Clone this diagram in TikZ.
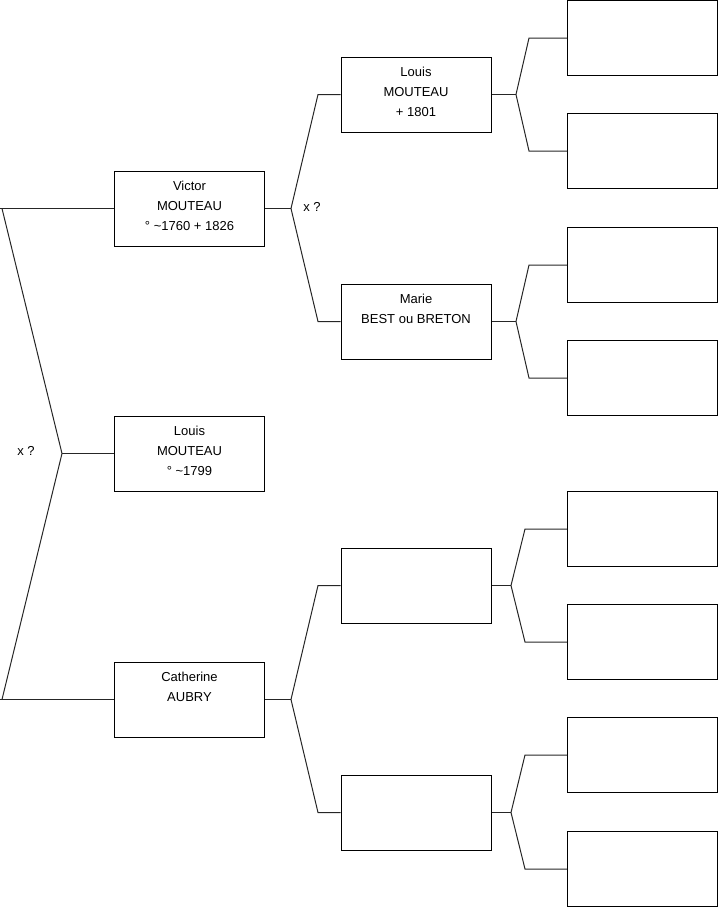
\documentclass[tikz,border=0pt]{standalone}
\usepackage{fontspec}
\setmainfont{Liberation Sans}
\begin{document}
\begin{tikzpicture}[x=1pt,y=-1pt,
  box/.style={draw=black,line width=1pt,minimum width=150pt,minimum height=75pt,inner sep=0pt},
  txt/.style={anchor=north,inner sep=0pt,align=center,font=\fontsize{13}{20}\selectfont},
  ln/.style={draw=black!85,line width=1pt},
  lab/.style={inner sep=0pt,font=\fontsize{13}{15}\selectfont}]
\useasboundingbox (0,0) rectangle (719,908);
% column 1
\node[box] (v) at (189.5,208.5) {};
\node[box] (l) at (189.5,453.5) {};
\node[box] (c) at (189.5,699.5) {};
% column 2
\node[box] (lm) at (416,94.5) {};
\node[box] (mb) at (416,321.5) {};
\node[box] (e1) at (416,585.5) {};
\node[box] (e2) at (416,812.5) {};
% column 3
\node[box] (a1) at (642.5,38) {};
\node[box] (a2) at (642.5,151) {};
\node[box] (a3) at (642.5,265) {};
\node[box] (a4) at (642.5,378) {};
\node[box] (a5) at (642.5,529) {};
\node[box] (a6) at (642.5,642) {};
\node[box] (a7) at (642.5,755) {};
\node[box] (a8) at (642.5,869) {};
% texts
\node[txt] (tv) at ([yshift=-10pt]v.north) {Victor\\MOUTEAU\\° \textasciitilde1760 + 1826};
\node[txt] (tl) at ([yshift=-10pt]l.north) {Louis\\MOUTEAU\\° \textasciitilde1799};
\node[txt] (tc) at ([yshift=-10pt]c.north) {Catherine\\AUBRY};
\node[txt] (tlm) at ([yshift=-10pt]lm.north) {Louis\\MOUTEAU\\+ 1801};
\node[txt] (tmb) at ([yshift=-10pt]mb.north) {Marie\\BEST ou BRETON};
% labels
\node[lab] (x1) at (26,451) {x ?};
\node[lab] (x2) at (312,207) {x ?};
% bracket coordinates
\coordinate (p1) at (62,453.5);
\coordinate (p1a) at (2,208.5);
\coordinate (p1b) at (2,699.5);
\coordinate (p2) at (291,208.5);
\coordinate (p2a) at (318,94.5);
\coordinate (p2b) at (318,321.5);
\coordinate (p3) at (291,699.5);
\coordinate (p3a) at (318,585.5);
\coordinate (p3b) at (318,812.5);
\coordinate (q1) at (516,94.5);
\coordinate (q1a) at (529,38);
\coordinate (q1b) at (529,151);
\coordinate (q2) at (516,321.5);
\coordinate (q2a) at (529,265);
\coordinate (q2b) at (529,378);
\coordinate (q3) at (511,585.5);
\coordinate (q3a) at (525,529);
\coordinate (q3b) at (525,642);
\coordinate (q4) at (511,812.5);
\coordinate (q4a) at (525,755);
\coordinate (q4b) at (525,869);
% connectors
\draw[ln] (v.west) -- (0,208.5);
\draw[ln] (c.west) -- (0,699.5);
\draw[ln] (p1a) -- (p1) -- (p1b);
\draw[ln] (p1) -- (l.west);
\draw[ln] (v.east) -- (p2);
\draw[ln] (lm.west) -- (p2a) -- (p2) -- (p2b) -- (mb.west);
\draw[ln] (c.east) -- (p3);
\draw[ln] (e1.west) -- (p3a) -- (p3) -- (p3b) -- (e2.west);
\draw[ln] (lm.east) -- (q1);
\draw[ln] (a1.west) -- (q1a) -- (q1) -- (q1b) -- (a2.west);
\draw[ln] (mb.east) -- (q2);
\draw[ln] (a3.west) -- (q2a) -- (q2) -- (q2b) -- (a4.west);
\draw[ln] (e1.east) -- (q3);
\draw[ln] (a5.west) -- (q3a) -- (q3) -- (q3b) -- (a6.west);
\draw[ln] (e2.east) -- (q4);
\draw[ln] (a7.west) -- (q4a) -- (q4) -- (q4b) -- (a8.west);
\end{tikzpicture}
\end{document}
